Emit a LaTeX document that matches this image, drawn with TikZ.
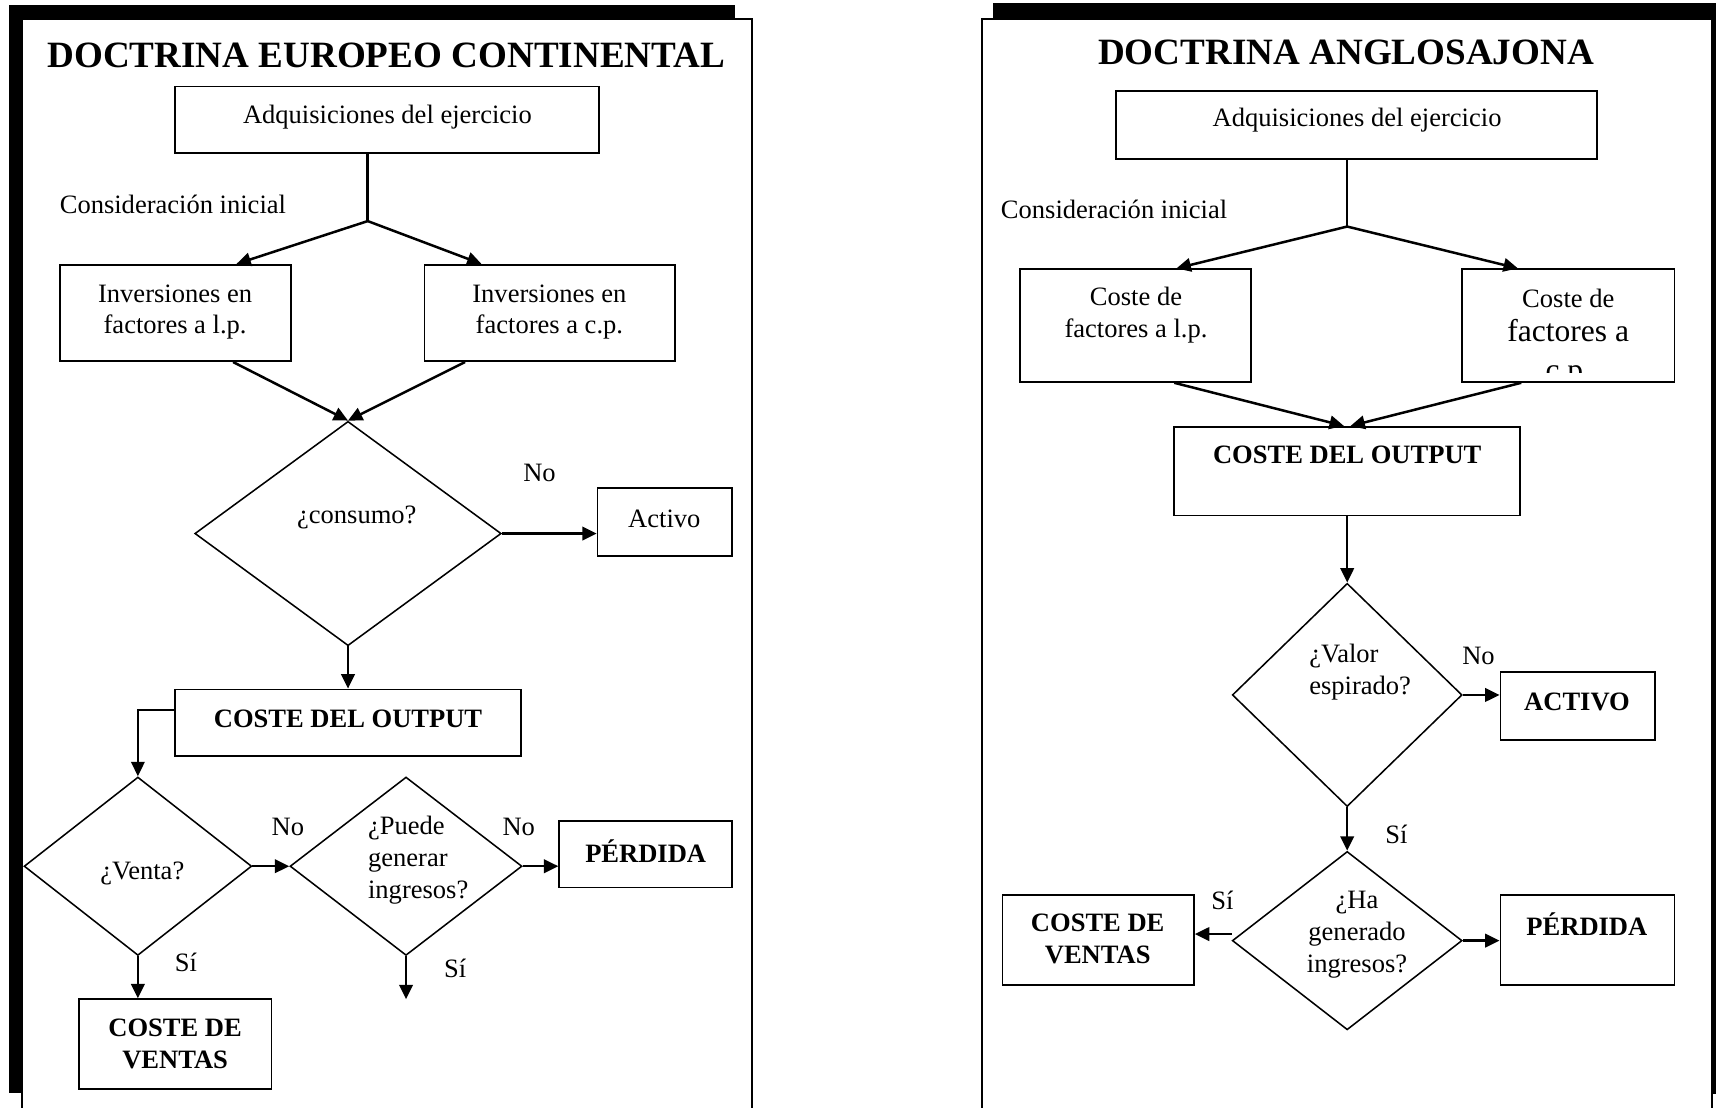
\documentclass[tikz,border=0pt]{standalone}
\usepackage{fontspec}
\setmainfont{Liberation Serif}
\usetikzlibrary{shapes.geometric,arrows.meta}
\newdimen\pxu \pxu=0.02cm
\begin{document}
\begin{tikzpicture}[x=0.02cm,y=-0.02cm,
  box/.style={draw,line width=0.9pt,rectangle,inner sep=0pt},
  dia/.style={draw,line width=0.8pt,diamond,inner sep=0pt},
  txt/.style={inner sep=0pt,font=\fontsize{13.8}{16.5}\selectfont,align=center},
  btxt/.style={txt,font=\fontsize{13.8}{16.5}\selectfont\bfseries},
  bigtxt/.style={txt,font=\fontsize{16.4}{19.7}\selectfont},
  ttl/.style={inner sep=0pt,font=\fontsize{19.3}{23}\selectfont\bfseries},
  arr/.style={line width=1.3pt,-{Triangle[length=7.5pt,width=7pt]}},
  ln/.style={line width=1.3pt},
]
\useasboundingbox (0,0) rectangle (1568,1012);
\clip (0,0) rectangle (1568,1012);
% panels
\fill[black] (8,5) rectangle (672,999);
\draw[fill=white,line width=1pt] (20,17) rectangle (687,1030);
\fill[black] (907,3) rectangle (1580,1000);
\draw[fill=white,line width=1pt] (897,17) rectangle (1564,1030);

% ---------------- left ----------------
\node[ttl] (ttlL) at (353,51) {DOCTRINA EUROPEO CONTINENTAL};
\node[box,minimum width=387\pxu,minimum height=61\pxu] (adqL) at (353.5,109.5) {};
\node[txt] (adqLt) at (354,107) {Adquisiciones del ejercicio};
\node[txt] (consL) at (158,187) {Consideración inicial};
\coordinate (jL) at (336,202);
\node[box,minimum width=211\pxu,minimum height=88\pxu] (invL) at (160.5,286) {};
\node[txt] (invLt) at (160,285) {Inversiones en\\factores a l.p.};
\node[box,minimum width=229\pxu,minimum height=88\pxu] (invR) at (502.5,286) {};
\node[txt] (invRt) at (502,285) {Inversiones en\\factores a c.p.};
\node[dia,minimum width=280\pxu,minimum height=205\pxu] (cons) at (318,487.5) {};
\node[txt] (consT) at (326,473) {¿consumo?};
\node[box,minimum width=123\pxu,minimum height=62\pxu] (actL) at (607.5,477) {};
\node[txt] (actLt) at (607,474) {Activo};
\node[txt] (noA) at (493,432) {No};
\node[box,minimum width=316\pxu,minimum height=61\pxu] (outL) at (318,660.5) {};
\node[btxt] (outLt) at (318,657) {COSTE DEL OUTPUT};
\node[dia,minimum width=208\pxu,minimum height=163\pxu] (venta) at (126,791.5) {};
\node[txt] (ventaT) at (130,798) {¿Venta?};
\node[dia,minimum width=212\pxu,minimum height=163\pxu] (puede) at (371,791.5) {};
\node[txt,align=left,anchor=west] (puedeT) at (336,786) {¿Puede\\generar\\ingresos?};
\node[box,minimum width=158\pxu,minimum height=61\pxu] (perdL) at (590,780.5) {};
\node[btxt] (perdLt) at (590,778) {PÉRDIDA};
\node[box,minimum width=176\pxu,minimum height=82\pxu] (cvL) at (160,954) {};
\node[btxt] (cvLt) at (160,954) {COSTE DE\\VENTAS};
\node[txt] (noB) at (263,756) {No};
\node[txt] (noC) at (474,756) {No};
\node[txt] (siA) at (170,879) {Sí};
\node[txt] (siB) at (416,885) {Sí};
\coordinate (endP) at (371,913);

\draw[ln] (jL |- adqL.south) -- (jL);
\draw[arr] (jL) -- ([xshift=55.5\pxu]invL.north);
\draw[arr] (jL) -- ([xshift=-62.5\pxu]invR.north);
\draw[arr] ([xshift=52.5\pxu]invL.south) -- (cons.north);
\draw[arr] ([xshift=-77.5\pxu]invR.south) -- (cons.north);
\draw[arr] (cons.east) -- (cons.east -| actL.west);
\draw[arr] (cons.south) -- (outL.north);
\draw[arr,line width=1.1pt] ([yshift=11.5\pxu]outL.west) -| (venta.north);
\draw[arr] (venta.east) -- (puede.west);
\draw[arr] (puede.east) -- (puede.east -| perdL.west);
\draw[arr] (venta.south) -- (venta.south |- cvL.north);
\draw[arr] (puede.south) -- (endP);

% ---------------- right ----------------
\node[ttl] (ttlR) at (1230,48) {DOCTRINA ANGLOSAJONA};
\node[box,minimum width=439\pxu,minimum height=62\pxu] (adqR) at (1239.5,114) {};
\node[txt] (adqRt) at (1240,110) {Adquisiciones del ejercicio};
\node[txt] (consR) at (1018,191) {Consideración inicial};
\coordinate (jR) at (1231,207);
\node[box,minimum width=211\pxu,minimum height=103\pxu] (clp) at (1037.5,297.5) {};
\node[txt] (clpT) at (1038,288) {Coste de\\factores a l.p.};
\node[box,minimum width=194\pxu,minimum height=103\pxu] (ccp) at (1433,297.5) {};
\node[txt] (ccpT1) at (1433,273) {Coste de};
\node[bigtxt,anchor=base] (ccpT2) at (1433,312) {factores a};
\begin{scope}
\clip (1336,246) rectangle (1530,340);
\node[bigtxt,anchor=base] (ccpT3) at (1433,348) {c.p.};
\end{scope}
\node[box,minimum width=316\pxu,minimum height=81\pxu] (outR) at (1231,430.5) {};
\node[btxt] (outRt) at (1231,416) {COSTE DEL OUTPUT};
\node[dia,minimum width=210\pxu,minimum height=204\pxu] (valor) at (1231,635) {};
\node[txt,align=left,anchor=west] (valorT) at (1196,614) {¿Valor\\espirado?};
\node[txt] (noD) at (1351,599) {No};
\node[box,minimum width=141\pxu,minimum height=62\pxu] (actR) at (1441.5,645) {};
\node[btxt] (actRt) at (1441,641) {ACTIVO};
\node[txt] (siC) at (1276,762) {Sí};
\node[dia,minimum width=210\pxu,minimum height=163\pxu] (ha) at (1231,859.5) {};
\node[txt] (haT) at (1240,854) {¿Ha\\generado\\ingresos?};
\node[txt] (siD) at (1117,823) {Sí};
\node[box,minimum width=175\pxu,minimum height=82\pxu] (cvR) at (1003.5,859) {};
\node[btxt] (cvRt) at (1003,858) {COSTE DE\\VENTAS};
\node[box,minimum width=159\pxu,minimum height=82\pxu] (perdR) at (1450.5,859) {};
\node[btxt] (perdRt) at (1450,844) {PÉRDIDA};
\coordinate (hw) at ([yshift=6\pxu]ha.west);

\draw[ln] (jR |- adqR.south) -- (jR);
\draw[arr] (jR) -- ([xshift=37.5\pxu]clp.north);
\draw[arr] (jR) -- ([xshift=-46\pxu]ccp.north);
\draw[arr] ([xshift=35.5\pxu]clp.south) -- ([xshift=-3\pxu]outR.north);
\draw[arr] ([xshift=-43\pxu]ccp.south) -- ([xshift=3\pxu]outR.north);
\draw[arr] (outR.south) -- (valor.north);
\draw[arr] (valor.east) -- (valor.east -| actR.west);
\draw[arr] (valor.south) -- (ha.north);
\draw[arr] (hw) -- (hw -| cvR.east);
\draw[arr] (ha.east) -- (ha.east -| perdR.west);
\end{tikzpicture}
\end{document}
